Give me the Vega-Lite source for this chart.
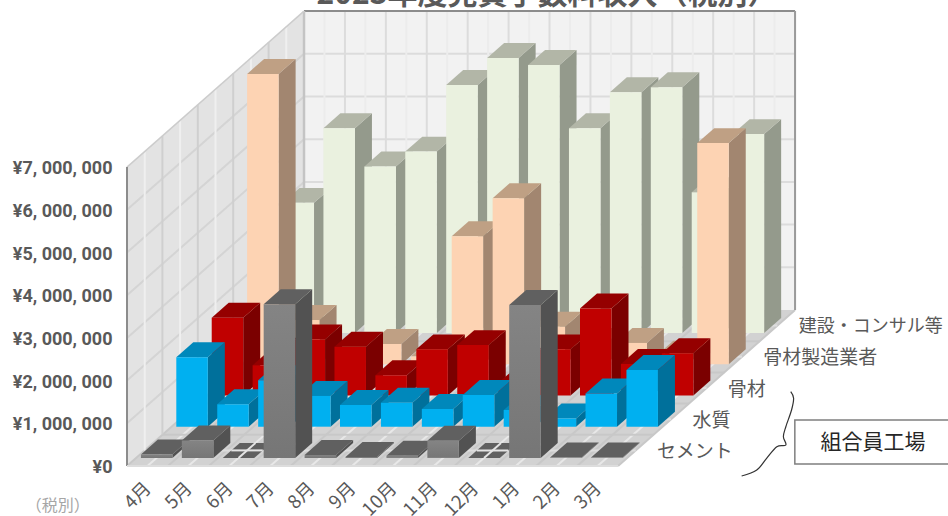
{
  "$schema": "https://vega.github.io/schema/vega-lite/v6.json",
  "width": 821,
  "height": 466,
  "autosize": "none",
  "padding": {"left": 127, "top": 0, "right": 0, "bottom": 50},
  "background": "white",
  "view": {"stroke": null},
  "params": [
    {"name": "xD", "value": 0.8651},
    {"name": "yD", "value": 730680}
  ],
  "datasets": {
    "bars": [
      {"month":"4月","k":0,"series":"セメント","row":0,"value":80000},
      {"month":"5月","k":1,"series":"セメント","row":0,"value":410000},
      {"month":"6月","k":2,"series":"セメント","row":0,"value":0},
      {"month":"7月","k":3,"series":"セメント","row":0,"value":3600000},
      {"month":"8月","k":4,"series":"セメント","row":0,"value":70000},
      {"month":"9月","k":5,"series":"セメント","row":0,"value":20000},
      {"month":"10月","k":6,"series":"セメント","row":0,"value":50000},
      {"month":"11月","k":7,"series":"セメント","row":0,"value":400000},
      {"month":"12月","k":8,"series":"セメント","row":0,"value":0},
      {"month":"1月","k":9,"series":"セメント","row":0,"value":3580000},
      {"month":"2月","k":10,"series":"セメント","row":0,"value":10000},
      {"month":"3月","k":11,"series":"セメント","row":0,"value":10000},
      {"month":"4月","k":0,"series":"水質","row":1,"value":1625000},
      {"month":"5月","k":1,"series":"水質","row":1,"value":525000},
      {"month":"6月","k":2,"series":"水質","row":1,"value":1090000},
      {"month":"7月","k":3,"series":"水質","row":1,"value":720000},
      {"month":"8月","k":4,"series":"水質","row":1,"value":510000},
      {"month":"9月","k":5,"series":"水質","row":1,"value":560000},
      {"month":"10月","k":6,"series":"水質","row":1,"value":415000},
      {"month":"11月","k":7,"series":"水質","row":1,"value":740000},
      {"month":"12月","k":8,"series":"水質","row":1,"value":390000},
      {"month":"1月","k":9,"series":"水質","row":1,"value":190000},
      {"month":"2月","k":10,"series":"水質","row":1,"value":780000},
      {"month":"3月","k":11,"series":"水質","row":1,"value":1330000},
      {"month":"4月","k":0,"series":"骨材","row":2,"value":1820000},
      {"month":"5月","k":1,"series":"骨材","row":2,"value":707000},
      {"month":"6月","k":2,"series":"骨材","row":2,"value":1310000},
      {"month":"7月","k":3,"series":"骨材","row":2,"value":1140000},
      {"month":"8月","k":4,"series":"骨材","row":2,"value":473000},
      {"month":"9月","k":5,"series":"骨材","row":2,"value":1080000},
      {"month":"10月","k":6,"series":"骨材","row":2,"value":1180000},
      {"month":"11月","k":7,"series":"骨材","row":2,"value":290000},
      {"month":"12月","k":8,"series":"骨材","row":2,"value":1080000},
      {"month":"1月","k":9,"series":"骨材","row":2,"value":2040000},
      {"month":"2月","k":10,"series":"骨材","row":2,"value":737000},
      {"month":"3月","k":11,"series":"骨材","row":2,"value":987000},
      {"month":"4月","k":0,"series":"骨材製造業者","row":3,"value":6800000},
      {"month":"5月","k":1,"series":"骨材製造業者","row":3,"value":1040000},
      {"month":"6月","k":2,"series":"骨材製造業者","row":3,"value":300000},
      {"month":"7月","k":3,"series":"骨材製造業者","row":3,"value":475000},
      {"month":"8月","k":4,"series":"骨材製造業者","row":3,"value":180000},
      {"month":"9月","k":5,"series":"骨材製造業者","row":3,"value":3000000},
      {"month":"10月","k":6,"series":"骨材製造業者","row":3,"value":3890000},
      {"month":"11月","k":7,"series":"骨材製造業者","row":3,"value":880000},
      {"month":"12月","k":8,"series":"骨材製造業者","row":3,"value":500000},
      {"month":"1月","k":9,"series":"骨材製造業者","row":3,"value":500000},
      {"month":"2月","k":10,"series":"骨材製造業者","row":3,"value":200000},
      {"month":"3月","k":11,"series":"骨材製造業者","row":3,"value":5180000},
      {"month":"4月","k":0,"series":"建設・コンサル等","row":4,"value":3050000},
      {"month":"5月","k":1,"series":"建設・コンサル等","row":4,"value":4800000},
      {"month":"6月","k":2,"series":"建設・コンサル等","row":4,"value":3900000},
      {"month":"7月","k":3,"series":"建設・コンサル等","row":4,"value":4250000},
      {"month":"8月","k":4,"series":"建設・コンサル等","row":4,"value":5810000},
      {"month":"9月","k":5,"series":"建設・コンサル等","row":4,"value":6440000},
      {"month":"10月","k":6,"series":"建設・コンサル等","row":4,"value":6280000},
      {"month":"11月","k":7,"series":"建設・コンサル等","row":4,"value":4800000},
      {"month":"12月","k":8,"series":"建設・コンサル等","row":4,"value":5640000},
      {"month":"1月","k":9,"series":"建設・コンサル等","row":4,"value":5760000},
      {"month":"2月","k":10,"series":"建設・コンサル等","row":4,"value":3300000},
      {"month":"3月","k":11,"series":"建設・コンサル等","row":4,"value":4660000}
    ],
    "monthLines": [{"m":0},{"m":0.5},{"m":1},{"m":1.5},{"m":2},{"m":2.5},{"m":3},{"m":3.5},{"m":4},{"m":4.5},{"m":5},{"m":5.5},{"m":6},{"m":6.5},{"m":7},{"m":7.5},{"m":8},{"m":8.5},{"m":9},{"m":9.5},{"m":10},{"m":10.5},{"m":11},{"m":11.5},{"m":12}],
    "depthLines": [{"d":0.5},{"d":1},{"d":1.5},{"d":2},{"d":2.5},{"d":3},{"d":3.5},{"d":4},{"d":4.5}],
    "levels": [{"v":1000000},{"v":2000000},{"v":3000000},{"v":4000000},{"v":5000000},{"v":6000000}],
    "rowNames": [
      {"name":"セメント","row":0},
      {"name":"水質","row":1},
      {"name":"骨材","row":2},
      {"name":"骨材製造業者","row":3},
      {"name":"建設・コンサル等","row":4}
    ],
    "brace": [
      {"i":0,"m":16.22,"v":1740000},
      {"i":1,"m":16.29,"v":1585000},
      {"i":2,"m":16.24,"v":1311000},
      {"i":3,"m":16.10,"v":920000},
      {"i":4,"m":16.04,"v":686000},
      {"i":5,"m":16.10,"v":492000},
      {"i":6,"m":15.88,"v":452000},
      {"i":7,"m":15.63,"v":180000},
      {"i":8,"m":15.39,"v":-94000},
      {"i":9,"m":15.02,"v":-234000}
    ]
  },
  "data": {"name": "bars"},
  "transform": [
    {"calculate": "datum.k+0.115+(datum.row+0.26)*xD", "as": "x0"},
    {"calculate": "datum.x0+0.77", "as": "x1"},
    {"calculate": "(datum.row+0.26)*yD", "as": "y0"},
    {"calculate": "datum.y0+datum.value", "as": "y1"},
    {"calculate": "[0,1]", "as": "e"}
  ],
  "layer": [
    {
      "description": "back wall",
      "data": {"values": [{"m":0},{"m":12}]},
      "transform": [{"calculate":"datum.m+5*xD","as":"px"},{"calculate":"5*yD","as":"py0"},{"calculate":"5*yD+7000000","as":"py1"}],
      "mark": {"type":"area","orient":"vertical","color":"#f2f2f2"},
      "encoding": {
        "x": {"field":"px","type":"quantitative","scale":{"domain":[0,20.063],"nice":false,"zero":false},
          "axis":{"values":[0.5,1.5,2.5,3.5,4.5,5.5,6.5,7.5,8.5,9.5,10.5,11.5],"title":null,"grid":false,"domain":false,"ticks":false,
            "labelExpr":"['4月','5月','6月','7月','8月','9月','10月','11月','12月','1月','2月','3月'][datum.value-0.5]",
            "labelAngle":-45,"labelAlign":"right","labelBaseline":"middle","labelPadding":19,"labelFont":"Noto Sans CJK JP","labelFontSize":18.5,"labelColor":"#595959","labelOverlap":false,"labelBound":false,"labelFlush":false}},
        "y": {"field":"py1","type":"quantitative","scale":{"domain":[0,10913349],"nice":false,"zero":false},
          "axis":{"values":[0,1000000,2000000,3000000,4000000,5000000,6000000,7000000],"title":null,"grid":false,"domain":false,"ticks":false,
            "labelExpr":"'¥'+replace(format(datum.value,','),/,/g,', ')",
            "labelPadding":15,"labelOffset":1.5,"labelFont":"Roboto","labelFontSize":18,"labelFontWeight":"bold","labelColor":"#595959","labelOverlap":false,"labelBound":false,"labelFlush":false}},
        "y2": {"field":"py0"}
      }
    },
    {
      "description": "left wall",
      "data": {"values": [{"d":0},{"d":5}]},
      "transform": [{"calculate":"datum.d*xD","as":"px"},{"calculate":"datum.d*yD","as":"py0"},{"calculate":"datum.d*yD+7000000","as":"py1"}],
      "mark": {"type":"area","orient":"vertical","color":"#e3e3e3"},
      "encoding": {"x":{"field":"px","type":"quantitative"},"y":{"field":"py1","type":"quantitative"},"y2":{"field":"py0"}}
    },
    {
      "description": "floor",
      "data": {"values": [{"d":0},{"d":5}]},
      "transform": [{"calculate":"datum.d*xD","as":"px0"},{"calculate":"datum.px0+12","as":"px1"},{"calculate":"datum.d*yD","as":"py"}],
      "mark": {"type":"area","orient":"horizontal","color":"#d2d2d2"},
      "encoding": {"y":{"field":"py","type":"quantitative"},"x":{"field":"px0","type":"quantitative"},"x2":{"field":"px1"}}
    },
    {
      "description": "value levels on the back wall",
      "data": {"name":"levels"},
      "transform": [{"calculate":"5*xD","as":"a"},{"calculate":"12+5*xD","as":"b"},{"calculate":"datum.v+5*yD","as":"c"}],
      "mark": {"type":"rule","color":"#dcdcdc","strokeWidth":2},
      "encoding": {"x":{"field":"a","type":"quantitative"},"x2":{"field":"b"},"y":{"field":"c","type":"quantitative"}}
    },
    {
      "description": "value levels on the left wall",
      "data": {"name":"levels"},
      "transform": [{"calculate":"5*xD","as":"a"},{"calculate":"datum.v+5*yD","as":"c"},{"calculate":"0","as":"o"}],
      "mark": {"type":"rule","color":"#d4d4d4","strokeWidth":2},
      "encoding": {"x":{"field":"o","type":"quantitative"},"x2":{"field":"a"},"y":{"field":"v","type":"quantitative"},"y2":{"field":"c"}}
    },
    {
      "description": "month lines on the back wall and floor",
      "data": {"name":"monthLines"},
      "transform": [{"calculate":"datum.m+5*xD","as":"a"},{"calculate":"5*yD","as":"c"},{"calculate":"5*yD+7000000","as":"e"},{"calculate":"0","as":"o"}],
      "layer": [
        {"mark":{"type":"rule","strokeWidth":2},
         "encoding":{"x":{"field":"a","type":"quantitative"},"y":{"field":"c","type":"quantitative"},"y2":{"field":"e"},
          "stroke":{"condition":{"test":"datum.m%1==0","value":"#dcdcdc"},"value":"#ececec"}}},
        {"mark":{"type":"rule","strokeWidth":2},
         "encoding":{"x":{"field":"m","type":"quantitative"},"x2":{"field":"a"},"y":{"field":"o","type":"quantitative"},"y2":{"field":"c"},
          "stroke":{"condition":{"test":"datum.m%1==0","value":"#c8c8c8"},"value":"#e8e8e8"}}}
      ]
    },
    {
      "description": "depth lines on the left wall and floor",
      "data": {"name":"depthLines"},
      "transform": [{"calculate":"datum.d*xD","as":"a"},{"calculate":"datum.a+12","as":"b"},{"calculate":"datum.d*yD","as":"c"},{"calculate":"datum.c+7000000","as":"e"}],
      "layer": [
        {"mark":{"type":"rule","strokeWidth":2},
         "encoding":{"x":{"field":"a","type":"quantitative"},"y":{"field":"c","type":"quantitative"},"y2":{"field":"e"},
          "stroke":{"condition":{"test":"datum.d%1==0","value":"#cfcfcf"},"value":"#efefef"}}},
        {"mark":{"type":"rule","strokeWidth":2},
         "encoding":{"x":{"field":"a","type":"quantitative"},"x2":{"field":"b"},"y":{"field":"c","type":"quantitative"},
          "stroke":{"condition":{"test":"datum.d%1==0","value":"#c8c8c8"},"value":"#dedede"}}}
      ]
    },
    {
      "description": "wall outlines",
      "data": {"values": [{"o":0,"f":12,"s":7000000}]},
      "transform": [{"calculate":"5*xD","as":"a"},{"calculate":"12+5*xD","as":"b"},{"calculate":"5*yD","as":"c"},{"calculate":"5*yD+7000000","as":"e"}],
      "layer": [
        {"mark":{"type":"rule","color":"#8c8c8c","strokeWidth":2},"encoding":{"x":{"field":"a","type":"quantitative"},"x2":{"field":"b"},"y":{"field":"e","type":"quantitative"}}},
        {"mark":{"type":"rule","color":"#9a9a9a","strokeWidth":2},"encoding":{"x":{"field":"b","type":"quantitative"},"y":{"field":"c","type":"quantitative"},"y2":{"field":"e"}}},
        {"mark":{"type":"rule","color":"#c4c4c4","strokeWidth":2.5},"encoding":{"x":{"field":"a","type":"quantitative"},"y":{"field":"c","type":"quantitative"},"y2":{"field":"e"}}},
        {"mark":{"type":"rule","color":"#cccccc","strokeWidth":1.5},"encoding":{"x":{"field":"o","type":"quantitative"},"x2":{"field":"a"},"y":{"field":"s","type":"quantitative"},"y2":{"field":"e"}}},
        {"mark":{"type":"rule","color":"#8c8c8c","strokeWidth":2},"encoding":{"x":{"field":"o","type":"quantitative"},"y":{"field":"o","type":"quantitative"},"y2":{"field":"s"}}},
        {"mark":{"type":"rule","color":"#dddddd","strokeWidth":2},"encoding":{"x":{"field":"o","type":"quantitative"},"x2":{"field":"f"},"y":{"field":"o","type":"quantitative"}}}
      ]
    },

    {"transform":[{"filter":"datum.row==4"},{"flatten":["e"]},{"calculate":"datum.x1+datum.e*0.48*xD","as":"sx"},{"calculate":"datum.y0+datum.e*0.48*yD","as":"sb"},{"calculate":"datum.sb+datum.value","as":"st"}],
     "mark":{"type":"area","orient":"vertical","color":"#949a8c"},
     "encoding":{"x":{"field":"sx","type":"quantitative"},"y":{"field":"st","type":"quantitative"},"y2":{"field":"sb"},"detail":{"field":"k","type":"nominal"}}},
    {"transform":[{"filter":"datum.row==4"},{"flatten":["e"]},{"calculate":"datum.x0+datum.e*0.48*xD","as":"tx0"},{"calculate":"datum.x1+datum.e*0.48*xD","as":"tx1"},{"calculate":"datum.y1+datum.e*0.48*yD","as":"ty"}],
     "mark":{"type":"area","orient":"horizontal","color":"#b2b6a7"},
     "encoding":{"y":{"field":"ty","type":"quantitative"},"x":{"field":"tx0","type":"quantitative"},"x2":{"field":"tx1"},"detail":{"field":"k","type":"nominal"}}},
    {"transform":[{"filter":"datum.row==4"}],
     "mark":{"type":"rect","color":"#eaf1df"},
     "encoding":{"x":{"field":"x0","type":"quantitative"},"x2":{"field":"x1"},"y":{"field":"y1","type":"quantitative"},"y2":{"field":"y0"}}},

    {"transform":[{"filter":"datum.row==3"},{"flatten":["e"]},{"calculate":"datum.x1+datum.e*0.48*xD","as":"sx"},{"calculate":"datum.y0+datum.e*0.48*yD","as":"sb"},{"calculate":"datum.sb+datum.value","as":"st"}],
     "mark":{"type":"area","orient":"vertical","color":"#a28670"},
     "encoding":{"x":{"field":"sx","type":"quantitative"},"y":{"field":"st","type":"quantitative"},"y2":{"field":"sb"},"detail":{"field":"k","type":"nominal"}}},
    {"transform":[{"filter":"datum.row==3"},{"flatten":["e"]},{"calculate":"datum.x0+datum.e*0.48*xD","as":"tx0"},{"calculate":"datum.x1+datum.e*0.48*xD","as":"tx1"},{"calculate":"datum.y1+datum.e*0.48*yD","as":"ty"}],
     "mark":{"type":"area","orient":"horizontal","color":"#bfa084"},
     "encoding":{"y":{"field":"ty","type":"quantitative"},"x":{"field":"tx0","type":"quantitative"},"x2":{"field":"tx1"},"detail":{"field":"k","type":"nominal"}}},
    {"transform":[{"filter":"datum.row==3"}],
     "mark":{"type":"rect","color":"#fdd3b3"},
     "encoding":{"x":{"field":"x0","type":"quantitative"},"x2":{"field":"x1"},"y":{"field":"y1","type":"quantitative"},"y2":{"field":"y0"}}},

    {"transform":[{"filter":"datum.row==2"},{"flatten":["e"]},{"calculate":"datum.x1+datum.e*0.48*xD","as":"sx"},{"calculate":"datum.y0+datum.e*0.48*yD","as":"sb"},{"calculate":"datum.sb+datum.value","as":"st"}],
     "mark":{"type":"area","orient":"vertical","color":"#7b0000"},
     "encoding":{"x":{"field":"sx","type":"quantitative"},"y":{"field":"st","type":"quantitative"},"y2":{"field":"sb"},"detail":{"field":"k","type":"nominal"}}},
    {"transform":[{"filter":"datum.row==2"},{"flatten":["e"]},{"calculate":"datum.x0+datum.e*0.48*xD","as":"tx0"},{"calculate":"datum.x1+datum.e*0.48*xD","as":"tx1"},{"calculate":"datum.y1+datum.e*0.48*yD","as":"ty"}],
     "mark":{"type":"area","orient":"horizontal","color":"#950000"},
     "encoding":{"y":{"field":"ty","type":"quantitative"},"x":{"field":"tx0","type":"quantitative"},"x2":{"field":"tx1"},"detail":{"field":"k","type":"nominal"}}},
    {"transform":[{"filter":"datum.row==2"}],
     "mark":{"type":"rect","color":"#c00000"},
     "encoding":{"x":{"field":"x0","type":"quantitative"},"x2":{"field":"x1"},"y":{"field":"y1","type":"quantitative"},"y2":{"field":"y0"}}},

    {"transform":[{"filter":"datum.row==1"},{"flatten":["e"]},{"calculate":"datum.x1+datum.e*0.48*xD","as":"sx"},{"calculate":"datum.y0+datum.e*0.48*yD","as":"sb"},{"calculate":"datum.sb+datum.value","as":"st"}],
     "mark":{"type":"area","orient":"vertical","color":"#00709b"},
     "encoding":{"x":{"field":"sx","type":"quantitative"},"y":{"field":"st","type":"quantitative"},"y2":{"field":"sb"},"detail":{"field":"k","type":"nominal"}}},
    {"transform":[{"filter":"datum.row==1"},{"flatten":["e"]},{"calculate":"datum.x0+datum.e*0.48*xD","as":"tx0"},{"calculate":"datum.x1+datum.e*0.48*xD","as":"tx1"},{"calculate":"datum.y1+datum.e*0.48*yD","as":"ty"}],
     "mark":{"type":"area","orient":"horizontal","color":"#0088bb"},
     "encoding":{"y":{"field":"ty","type":"quantitative"},"x":{"field":"tx0","type":"quantitative"},"x2":{"field":"tx1"},"detail":{"field":"k","type":"nominal"}}},
    {"transform":[{"filter":"datum.row==1"}],
     "mark":{"type":"rect","color":"#00b0f0"},
     "encoding":{"x":{"field":"x0","type":"quantitative"},"x2":{"field":"x1"},"y":{"field":"y1","type":"quantitative"},"y2":{"field":"y0"}}},

    {"transform":[{"filter":"datum.row==0"},{"flatten":["e"]},{"calculate":"datum.x1+datum.e*0.48*xD","as":"sx"},{"calculate":"datum.y0+datum.e*0.48*yD","as":"sb"},{"calculate":"datum.sb+datum.value","as":"st"}],
     "mark":{"type":"area","orient":"vertical","color":"#525252"},
     "encoding":{"x":{"field":"sx","type":"quantitative"},"y":{"field":"st","type":"quantitative"},"y2":{"field":"sb"},"detail":{"field":"k","type":"nominal"}}},
    {"transform":[{"filter":"datum.row==0"},{"flatten":["e"]},{"calculate":"datum.x0+datum.e*0.48*xD","as":"tx0"},{"calculate":"datum.x1+datum.e*0.48*xD","as":"tx1"},{"calculate":"datum.y1+datum.e*0.48*yD","as":"ty"}],
     "mark":{"type":"area","orient":"horizontal","color":"#606060"},
     "encoding":{"y":{"field":"ty","type":"quantitative"},"x":{"field":"tx0","type":"quantitative"},"x2":{"field":"tx1"},"detail":{"field":"k","type":"nominal"}}},
    {"transform":[{"filter":"datum.row==0"}],
     "mark":{"type":"rect","color":{"gradient":"linear","x1":0,"y1":0,"x2":0,"y2":1,"stops":[{"offset":0,"color":"#848484"},{"offset":1,"color":"#767676"}]}},
     "encoding":{"x":{"field":"x0","type":"quantitative"},"x2":{"field":"x1"},"y":{"field":"y1","type":"quantitative"},"y2":{"field":"y0"}}},

    {"description":"floor lines showing through the empty months",
     "transform":[{"filter":"datum.row==0 && datum.value==0"},{"calculate":"datum.k+0.115+0.5*xD","as":"h0"},{"calculate":"datum.h0+0.77","as":"h1"},{"calculate":"0.5*yD","as":"hy"}],
     "mark":{"type":"rule","color":"#e4e4e4","strokeWidth":2},
     "encoding":{"x":{"field":"h0","type":"quantitative"},"x2":{"field":"h1"},"y":{"field":"hy","type":"quantitative"}}},
    {"transform":[{"filter":"datum.row==0 && datum.value==0"},{"calculate":"datum.k+0.5+0.26*xD","as":"v0"},{"calculate":"datum.k+0.5+0.74*xD","as":"v1"},{"calculate":"0.26*yD","as":"w0"},{"calculate":"0.74*yD","as":"w1"}],
     "mark":{"type":"rule","color":"#e4e4e4","strokeWidth":2},
     "encoding":{"x":{"field":"v0","type":"quantitative"},"x2":{"field":"v1"},"y":{"field":"w0","type":"quantitative"},"y2":{"field":"w1"}}},

    {"description":"series names along the right edge of the floor",
     "data":{"name":"rowNames"},
     "transform":[{"calculate":"12.953+datum.row*xD","as":"lx"},{"calculate":"328000+datum.row*yD","as":"ly"}],
     "mark":{"type":"text","align":"left","baseline":"middle","font":"Noto Sans CJK JP","color":"#595959"},
     "encoding":{"x":{"field":"lx","type":"quantitative"},"y":{"field":"ly","type":"quantitative"},"text":{"field":"name","type":"nominal"},
       "size":{"condition":{"test":"datum.row==4","value":18},"value":19}}},

    {"description":"brace joining the member-plant rows",
     "data":{"name":"brace"},
     "mark":{"type":"line","interpolate":"cardinal","color":"#333333","strokeWidth":1.2},
     "encoding":{"x":{"field":"m","type":"quantitative"},"y":{"field":"v","type":"quantitative"},"order":{"field":"i","type":"quantitative"}}},

    {"description":"callout box",
     "data":{"values":[{"a":16.32,"b":20.2,"c":47000,"e":1077000,"t":"組合員工場","tx":18.23,"ty":539000}]},
     "layer":[
       {"mark":{"type":"rect","fill":"white","stroke":"#7f7f7f","strokeWidth":1.5},
        "encoding":{"x":{"field":"a","type":"quantitative"},"x2":{"field":"b"},"y":{"field":"c","type":"quantitative"},"y2":{"field":"e"}}},
       {"mark":{"type":"text","align":"center","baseline":"middle","font":"Noto Sans CJK JP","fontSize":21,"color":"#262626"},
        "encoding":{"x":{"field":"tx","type":"quantitative"},"y":{"field":"ty","type":"quantitative"},"text":{"field":"t","type":"nominal"}}}
     ]},

    {"description":"tax note",
     "data":{"values":[{"t":"（税別）","tx":-1.69,"ty":-937000}]},
     "mark":{"type":"text","align":"center","baseline":"middle","font":"Noto Sans CJK JP","fontSize":16,"color":"#a6a6a6"},
     "encoding":{"x":{"field":"tx","type":"quantitative"},"y":{"field":"ty","type":"quantitative"},"text":{"field":"t","type":"nominal"}}},

    {"description":"chart heading along the top edge",
     "data":{"values":[{"t":"2023年度売買手数料収入（税別）","tx":10.264,"ty":10819672}]},
     "mark":{"type":"text","align":"center","baseline":"alphabetic","font":"Noto Sans CJK JP","fontSize":30,"fontWeight":"bold","color":"#595959"},
     "encoding":{"x":{"field":"tx","type":"quantitative"},"y":{"field":"ty","type":"quantitative"},"text":{"field":"t","type":"nominal"}}}
  ]
}
